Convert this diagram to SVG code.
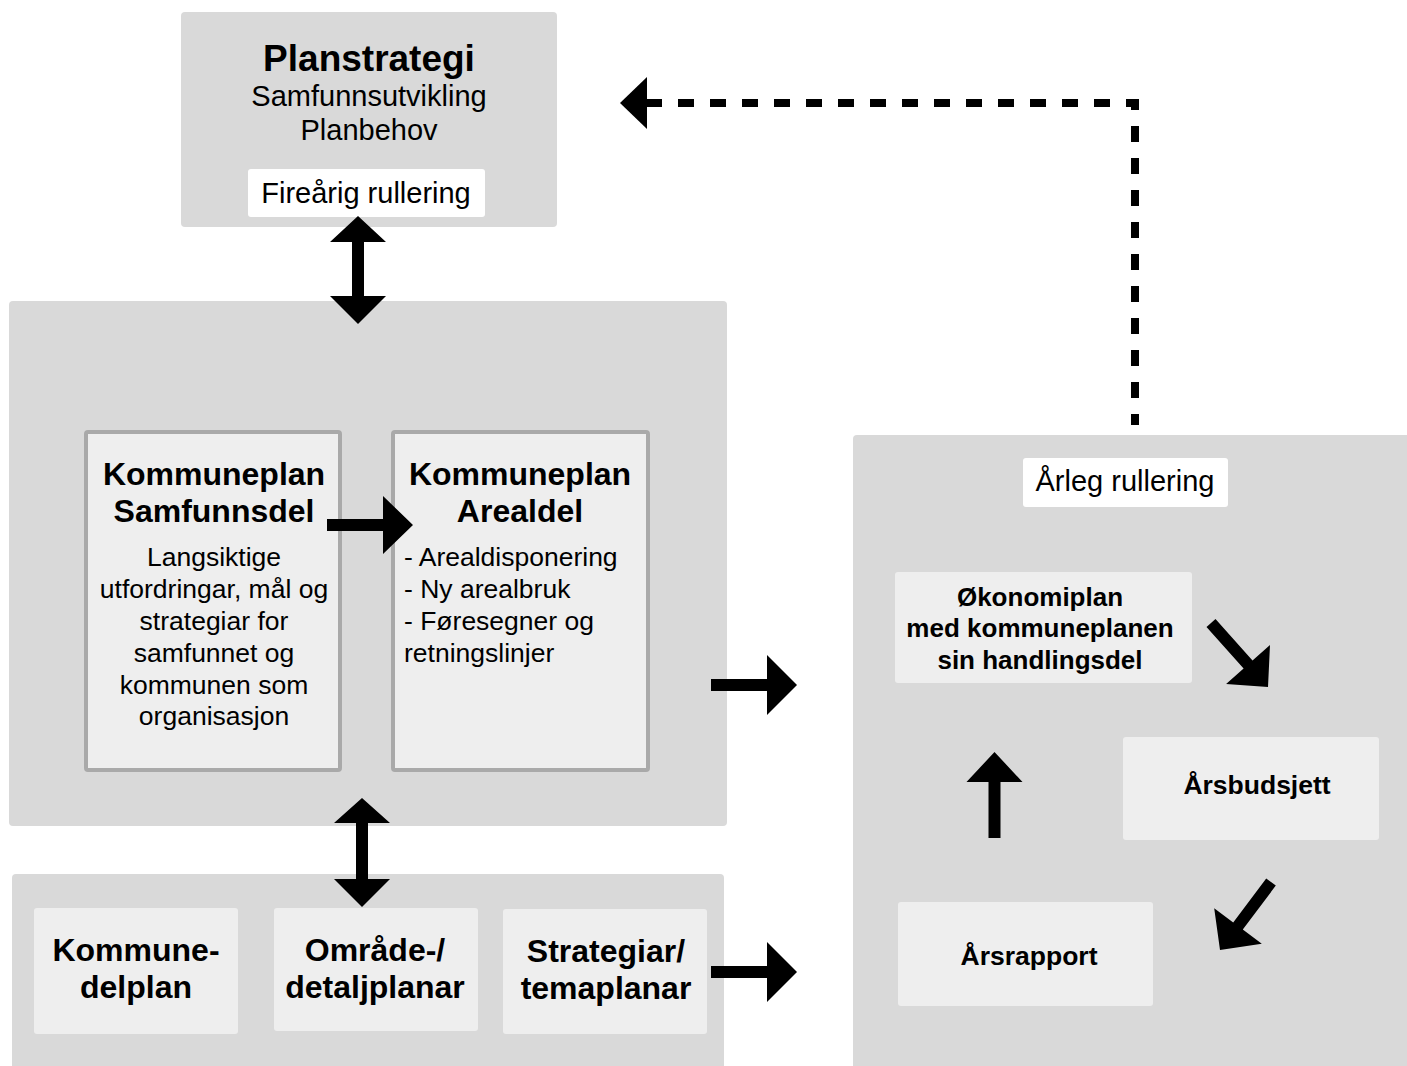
<svg xmlns="http://www.w3.org/2000/svg" width="1407" height="1066" viewBox="0 0 1407 1066">
<style>
.big{fill:#d9d9d9}
.lbl{fill:#ffffff}
.inner{fill:#eeeeee}
.framed{fill:#eeeeee;stroke:#a9a9a9;stroke-width:4}
text{font-family:"Liberation Sans",Arial,sans-serif;fill:#000}
.b{font-weight:bold}
.c{text-anchor:middle}
.arr{fill:#000}
.dash{fill:none;stroke:#000;stroke-width:8;stroke-dasharray:16 16}
</style>
<rect width="1407" height="1066" fill="#ffffff"/>

<g id="planstrategi">
<rect class="big" x="181" y="12" width="376" height="215" rx="4"/>
<text class="b c" x="369" y="71" font-size="37">Planstrategi</text>
<text class="c" x="369" y="106" font-size="29">Samfunnsutvikling</text>
<text class="c" x="369" y="140" font-size="29">Planbehov</text>
<rect class="lbl" x="248" y="169" width="237" height="48" rx="3"/>
<text class="c" x="366" y="203" font-size="29">Fireårig rullering</text>
</g>

<g id="kommuneplan">
<rect class="big" x="9" y="301" width="718" height="525" rx="4"/>
</g>

<g id="samfunnsdel">
<rect class="framed" x="86" y="432" width="254" height="338" rx="2"/>
<text class="b c" x="214" y="485" font-size="32">Kommuneplan</text>
<text class="b c" x="214" y="522" font-size="32">Samfunnsdel</text>
<text class="c" x="214" y="566" font-size="26.5">Langsiktige</text>
<text class="c" x="214" y="598" font-size="26.5">utfordringar, mål og</text>
<text class="c" x="214" y="630" font-size="26.5">strategiar for</text>
<text class="c" x="214" y="662" font-size="26.5">samfunnet og</text>
<text class="c" x="214" y="694" font-size="26.5">kommunen som</text>
<text class="c" x="214" y="725" font-size="26.5">organisasjon</text>
</g>

<g id="arealdel">
<rect class="framed" x="393" y="432" width="255" height="338" rx="2"/>
<text class="b c" x="520" y="485" font-size="32">Kommuneplan</text>
<text class="b c" x="520" y="522" font-size="32">Arealdel</text>
<text x="404" y="566" font-size="26.5">- Arealdisponering</text>
<text x="404" y="598" font-size="26.5">- Ny arealbruk</text>
<text x="404" y="630" font-size="26.5">- Føresegner og</text>
<text x="404" y="662" font-size="26.5">retningslinjer</text>
</g>

<g id="underplanar">
<rect class="big" x="12" y="874" width="712" height="200" rx="4"/>
</g>

<g id="kommunedelplan">
<rect class="inner" x="34" y="908" width="204" height="126" rx="3"/>
<text class="b c" x="136" y="961" font-size="32">Kommune-</text>
<text class="b c" x="136" y="998" font-size="32">delplan</text>
</g>

<g id="omradeplanar">
<rect class="inner" x="274" y="908" width="204" height="123" rx="3"/>
<text class="b c" x="375" y="961" font-size="32">Område-/</text>
<text class="b c" x="375" y="998" font-size="32">detaljplanar</text>
</g>

<g id="strategiar">
<rect class="inner" x="503" y="909" width="204" height="125" rx="3"/>
<text class="b c" x="606" y="962" font-size="32">Strategiar/</text>
<text class="b c" x="606" y="999" font-size="32">temaplanar</text>
</g>

<g id="arleg">
<rect class="big" x="853" y="435" width="560" height="640" rx="4"/>
<rect class="lbl" x="1023" y="458" width="205" height="49" rx="3"/>
<text class="c" x="1125" y="491" font-size="29">Årleg rullering</text>
</g>

<g id="okonomiplan">
<rect class="inner" x="895" y="572" width="297" height="111" rx="3"/>
<text class="b c" x="1040" y="606" font-size="26">Økonomiplan</text>
<text class="b c" x="1040" y="637" font-size="26">med kommuneplanen</text>
<text class="b c" x="1040" y="669" font-size="26">sin handlingsdel</text>
</g>

<g id="arsbudsjett">
<rect class="inner" x="1123" y="737" width="256" height="103" rx="3"/>
<text class="b c" x="1257" y="794" font-size="26.5">Årsbudsjett</text>
</g>

<g id="arsrapport">
<rect class="inner" x="898" y="902" width="255" height="104" rx="3"/>
<text class="b c" x="1029" y="965" font-size="26.5">Årsrapport</text>
</g>

<g id="connectors">
<!-- Planstrategi <-> Kommuneplan -->
<polygon class="arr" points="358,216 386,242 364,242 364,296 386,296 358,324 330,296 352,296 352,242 330,242"/>
<!-- Kommuneplan <-> underplanar -->
<polygon class="arr" points="362,798 390,823 368,823 368,879 390,879 362,907 334,879 356,879 356,823 334,823"/>
<!-- Samfunnsdel -> Arealdel -->
<polygon class="arr" points="327,519 383,519 383,496 413,525 383,554 383,531 327,531"/>
<!-- Kommuneplan -> Årleg -->
<polygon class="arr" points="711,679 767,679 767,655 797,685 767,715 767,691 711,691"/>
<!-- Strategiar -> Årleg -->
<polygon class="arr" points="711,966 767,966 767,942 797,972 767,1002 767,978 711,978"/>
<!-- Økonomiplan -> Årsbudsjett -->
<polygon class="arr" points="1215.5,619 1252.5,660.6 1270,645 1268,687 1226.1,684.1 1243.6,668.6 1206.5,627"/>
<!-- Årsbudsjett -> Årsrapport -->
<polygon class="arr" points="1266.2,878.4 1233.2,922.4 1214.2,908.2 1220,950 1261.8,943.8 1242.8,929.6 1275.8,885.6"/>
<!-- Årsrapport -> Økonomiplan -->
<polygon class="arr" points="994.5,752 1022.5,782 1000.5,782 1000.5,838 988.5,838 988.5,782 966.5,782"/>
<!-- Årleg -> Planstrategi (dashed) -->
<path class="dash" d="M646,103 H1135 V425" stroke-linejoin="miter"/>
<polygon class="arr" points="620,103 647,77 647,129"/>
</g>
</svg>
